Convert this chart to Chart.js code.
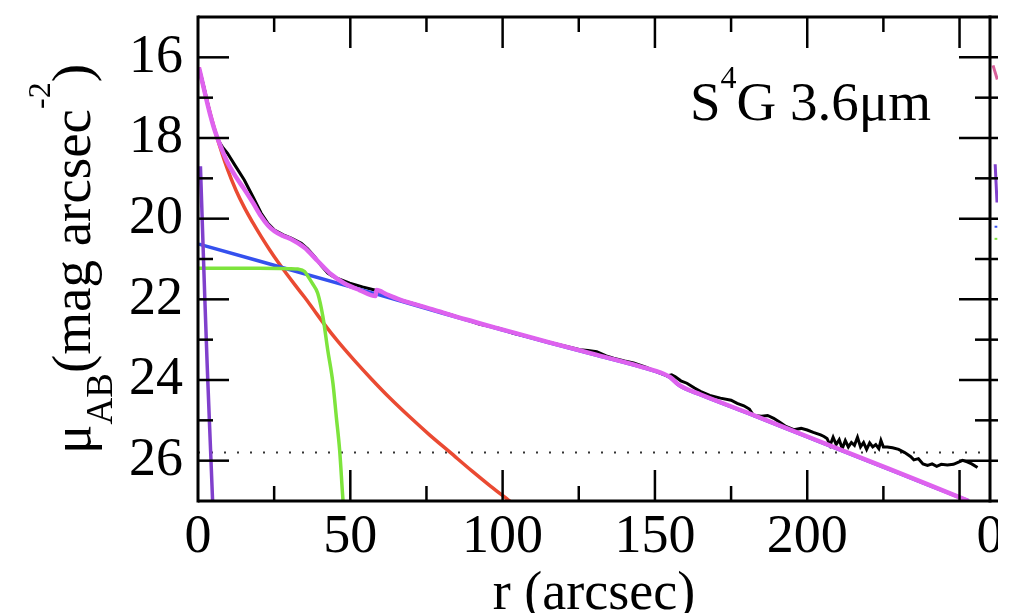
<!DOCTYPE html>
<html><head><meta charset="utf-8">
<script src="https://cdn.jsdelivr.net/npm/chart.js@4/dist/chart.umd.min.js"></script>
<style>html,body{margin:0;padding:0;background:#fff;overflow:hidden}#wrap{width:1018px;height:613px}</style>
</head><body><div id="wrap"><canvas id="c" width="1018" height="613"></canvas></div>
<script>
// ---- data (r in arcsec, mu in mag/arcsec^2) ----
const profileR = [0.3,1,2,3,4,5,6,7,8,9.7,
 12,15.2,18,20.7,23,25.1,28,30.6,33.9,36,
 38.3,40.5,42.6,44.3,46,49.8,54,58.6,62,66.2,
 72,77.2,83,88.2,92.5,99,103.5,109,114.5,120,
 125.4,128,130.9,134,136.4,140,143,147,151.7,154,
 155.5,156.7,158.5,160.5,163,164.9,168,171.5,175,177,
 179.2,181,182.4,185,187,189,191,193,195.6,198,
 200,202,204.4,205.5,206.5,207.5,208.5,209.5,210.5,211.5,
 212.5,213.5,214.5,215.5,216.5,217.5,218.5,219.5,220.5,221.5,
 222.5,223.5,224.2,225,226.3,228,230,232,234,235,
 236.5,238,239.5,241,242.5,244,246,248,249.5,251,
 252.5,254,255.9];
const profileMu = [16.27,16.45,16.75,17.08,17.4,17.68,17.93,18.1,18.22,18.38,
 18.66,19.04,19.45,19.86,20.12,20.28,20.4,20.48,20.61,20.75,
 20.94,21.17,21.35,21.43,21.49,21.6,21.69,21.78,21.88,22.01,
 22.13,22.26,22.38,22.51,22.62,22.72,22.84,22.94,23.05,23.15,
 23.25,23.27,23.3,23.4,23.46,23.53,23.58,23.68,23.83,23.9,
 23.87,23.92,24.02,24.08,24.2,24.28,24.38,24.45,24.5,24.58,
 24.64,24.72,24.88,24.9,24.88,24.95,25.05,25.15,25.23,25.2,
 25.24,25.3,25.36,25.4,25.45,25.62,25.42,25.6,25.48,25.7,
 25.5,25.66,25.55,25.62,25.42,25.66,25.55,25.72,25.56,25.66,
 25.6,25.7,25.5,25.66,25.66,25.68,25.72,25.8,25.9,25.98,
 25.95,26.08,26.12,26.08,26.14,26.09,26.11,26.09,26.04,25.99,
 26.03,26.08,26.17];

const bulgeR  = [0.3,1,2,3.5,5.9,9.7,12.5,15.2,18,20.7,23.5,26.2,29.5,31.7,35,38,41.5,46,51.4,57,62.9,70,76,82.7,90,96,101.8,103];
const bulgeMu = [16.25,16.48,16.8,17.25,17.9,18.78,19.3,19.72,20.1,20.44,20.77,21.07,21.41,21.63,21.95,22.26,22.62,23.05,23.52,23.98,24.44,24.95,25.36,25.79,26.26,26.63,26.97,27.04];

const diskR  = [0.3,58.6,66,77,88,100,115,130,145,153,155,158,165,180,200,220,240,253];
const diskMu = [20.63,21.87,22.03,22.27,22.51,22.76,23.07,23.37,23.67,23.86,23.94,24.14,24.37,24.81,25.41,26.01,26.61,27.0];

const barR  = [0.3,10,20,30,32.8,35,36.1,37.5,39.3,41.0,42.6,44.3,45.4,46.5,47.6,48];
const barMu = [21.23,21.23,21.23,21.24,21.25,21.31,21.43,21.6,21.85,22.43,23.26,24.08,24.91,25.74,26.98,27.3];

const nucR  = [0.8,1.5,2.2,3.0,4.0,4.9];
const nucMu = [18.7,20.3,21.9,23.6,25.5,27.2];

const modelR  = [0.3,1,2,3,4,5.4,7.5,9.7,12.5,15.2,18,20.7,23,25.1,28,30.6,35,39.3,43.7,48,53,58.3,58.6,62,66,77,88,100,115,130,145,153,155,158,165,180,200,220,240,253];
const modelMu = [16.25,16.47,16.8,17.12,17.42,17.79,18.22,18.61,18.97,19.27,19.6,19.94,20.17,20.31,20.43,20.51,20.72,21.05,21.38,21.6,21.77,21.92,21.77,21.88,22.0,22.25,22.5,22.75,23.06,23.36,23.66,23.85,23.93,24.13,24.36,24.8,25.4,26.0,26.6,27.0];

const skyR  = [0,257];
const skyMu = [25.8,25.8];

// fragments of the neighbouring panel visible at the right edge
const nextModelR = [261.0,262.4], nextModelMu = [16.2,16.55];
const nextNucR   = [261.7,262.3], nextNucMu   = [18.65,19.6];
const nextDiskR  = [261.5,262.4], nextDiskMu  = [20.2,20.2];
const nextBarR   = [261.5,262.4], nextBarMu   = [20.5,20.5];

const xTickValues = [0,50,100,150,200,250];
const xTickLabels = ["0","50","100","150","200",""];
const yTickValues = [16,18,20,22,24,26];
const yTickLabels = ["16","18","20","22","24","26"];

// ---- chart ----
const pts = (xs, ys) => xs.map((v,i)=>({x:v, y:ys[i]}));
const SERIF = '"Liberation Serif", "Times New Roman", serif';

function ds(data, color, width, order, extra){
  return Object.assign({data, borderColor:color, borderWidth:width, pointRadius:0, fill:false,
    cubicInterpolationMode:'monotone', order}, extra||{});
}

const frame = {
  id:'frame',
  afterDatasetsDraw(chart){
    const {ctx, chartArea:a, scales:{x,y}} = chart;
    ctx.save();
    ctx.strokeStyle = '#000';
    const line=(x1,y1,x2,y2)=>{ctx.beginPath();ctx.moveTo(x1,y1);ctx.lineTo(x2,y2);ctx.stroke();};
    ctx.lineWidth = 2.5;
    for (let v=25; v<=x.max; v+=25){
      const px = x.getPixelForValue(v), len = (v%50===0)?31:15;
      line(px,a.bottom,px,a.bottom-len); line(px,a.top,px,a.top+len);
    }
    for (let v=16; v<27; v++){
      const py = y.getPixelForValue(v), len = (v%2===0)?31:15;
      line(a.left,py,a.left+len,py); line(a.right-len,py,a.right+9,py);
    }
    ctx.lineWidth = 3;
    line(a.left,a.top,a.right+9,a.top); line(a.left,a.bottom,a.right+9,a.bottom);
    line(a.left,a.top-1.5,a.left,a.bottom+1.5); line(a.right,a.top-1.5,a.right,a.bottom+1.5);
    ctx.restore();
  },
  afterDraw(chart){
    const {ctx, chartArea:a} = chart;
    ctx.save();
    ctx.fillStyle = '#000';
    // x title
    ctx.font = '54px ' + SERIF; ctx.textAlign='center'; ctx.textBaseline='alphabetic';
    ctx.fillText('r (arcsec)', (a.left+a.right)/2, 609);
    // neighbour panel "0"
    ctx.textBaseline='middle';
    ctx.fillText('0', a.right, a.bottom + 4 + 32.4);
    // y title (rotated)
    const main = '55px ' + SERIF, sub = '37px ' + SERIF, sup = '32px ' + SERIF;
    const segs = [{t:'\u03bc',f:main,dy:0},{t:'AB',f:sub,dy:22},{t:'(mag arcsec',f:main,dy:0},{t:'-2',f:sup,dy:-40},{t:')',f:main,dy:0}];
    let total=0; segs.forEach(s=>{ctx.font=s.f; s.w=ctx.measureText(s.t).width; total+=s.w;});
    ctx.translate(90,(a.top+a.bottom)/2); ctx.rotate(-Math.PI/2);
    ctx.textAlign='left'; ctx.textBaseline='alphabetic';
    let lx=-total/2;
    segs.forEach(s=>{ctx.font=s.f; ctx.fillText(s.t,lx,s.dy); lx+=s.w;});
    ctx.setTransform(1,0,0,1,0,0);
    // panel label S^4G 3.6um
    ctx.textAlign='left'; ctx.textBaseline='alphabetic';
    let px=690;
    ctx.font='55px '+SERIF; ctx.fillText('S',px,120); px+=ctx.measureText('S').width;
    ctx.font='32px '+SERIF; ctx.fillText('4',px,88); px+=ctx.measureText('4').width;
    ctx.font='55px '+SERIF; ctx.fillText('G 3.6\u03bcm',px,120);
    // image edge
    ctx.fillStyle='#fff'; ctx.fillRect(998,0,20,613);
    ctx.restore();
  }
};

new Chart(document.getElementById('c'), {
  type:'line',
  data:{datasets:[
    ds(pts(modelR,modelMu), '#de62ee', 4.5, 0),
    ds(pts(nucR,nucMu), '#8040cc', 3.5, 1),
    ds(pts(barR,barMu), '#7de43c', 3.5, 2),
    ds(pts(diskR,diskMu), '#3450ee', 3.5, 3),
    ds(pts(bulgeR,bulgeMu), '#ea4a32', 3.5, 4),
    ds(pts(profileR,profileMu), '#000000', 3, 5, {cubicInterpolationMode:'default', tension:0}),
    ds(pts(skyR,skyMu), '#333333', 2, 6, {borderDash:[2,11], tension:0}),
    ds(pts(nextModelR,nextModelMu), '#d8609a', 3, 7, {clip:false, tension:0}),
    ds(pts(nextNucR,nextNucMu), '#8040cc', 3, 7, {clip:false, tension:0}),
    ds(pts(nextDiskR,nextDiskMu), '#3450ee', 2, 7, {clip:false, tension:0}),
    ds(pts(nextBarR,nextBarMu), '#7de43c', 2, 7, {clip:false, tension:0})
  ]},
  options:{
    responsive:false, animation:false, devicePixelRatio:1,
    layout:{padding:{left:0, top:17, right:28, bottom:0}},
    plugins:{legend:{display:false}, tooltip:{enabled:false}},
    scales:{
      x:{type:'linear', min:0, max:260,
        grid:{display:false, drawTicks:false}, border:{display:false},
        afterBuildTicks:s=>{s.ticks = xTickValues.map(v=>({value:v}));},
        afterFit:s=>{s.height=112; s.paddingLeft=0; s.paddingRight=0;},
        ticks:{autoSkip:false, maxRotation:0, minRotation:0, padding:4, color:'#000',
          font:{family:SERIF, size:54},
          callback:v=>xTickLabels[xTickValues.indexOf(v)] ?? ''}
      },
      y:{type:'linear', min:15, max:27, reverse:true,
        grid:{display:false, drawTicks:false}, border:{display:false},
        afterBuildTicks:s=>{s.ticks = yTickValues.map(v=>({value:v}));},
        afterFit:s=>{s.width=198; s.paddingTop=0; s.paddingBottom=0;},
        ticks:{autoSkip:false, padding:15, color:'#000',
          font:{family:SERIF, size:54},
          callback:v=>yTickLabels[yTickValues.indexOf(v)] ?? ''}
      }
    }
  },
  plugins:[frame]
});
</script>
</body></html>
